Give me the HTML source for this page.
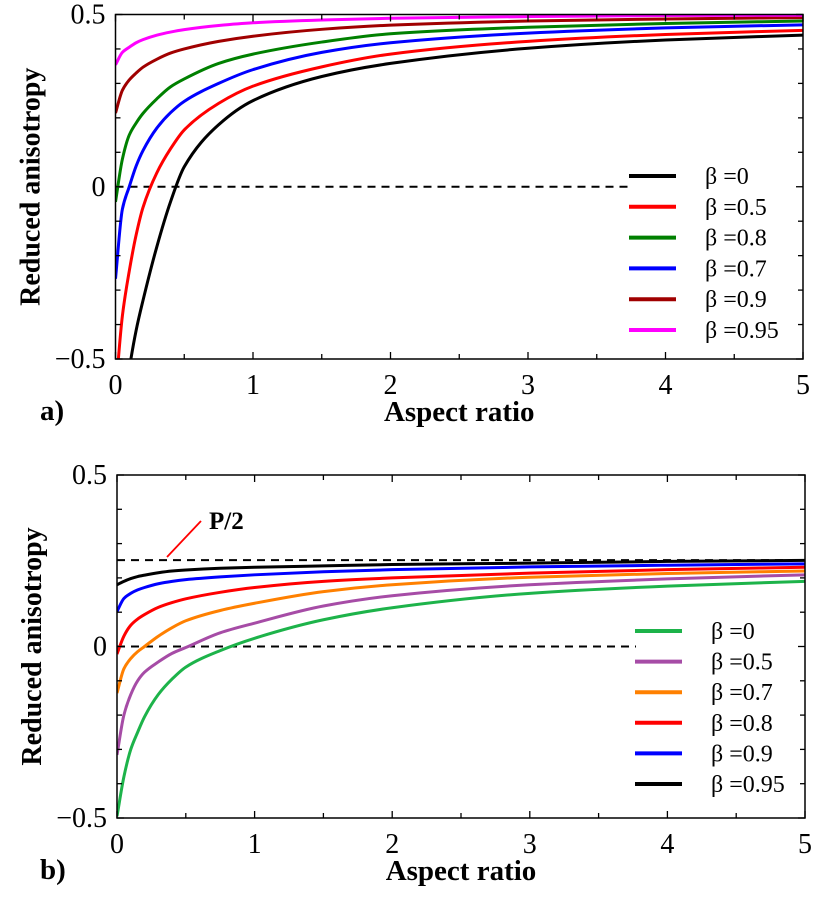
<!DOCTYPE html>
<html><head><meta charset="utf-8">
<style>
html,body{margin:0;padding:0;background:#fff;}
svg{display:block;}
svg text{font-family:"Liberation Serif","DejaVu Serif","Times New Roman",serif;}
</style></head>
<body>
<svg id="chart" width="820" height="905" viewBox="0 0 820 905" xmlns="http://www.w3.org/2000/svg">
<defs>
<clipPath id="clipA"><rect x="115.5" y="14.5" width="687.5" height="344.5"/></clipPath>
<clipPath id="clipB"><rect x="117" y="475" width="688" height="343"/></clipPath>
</defs>
</svg>
<script>
const xs = [0, 0.05, 0.1, 0.15, 0.2, 0.3, 0.4, 0.5, 0.75, 1, 1.5, 2, 3, 4, 5];
// Panel a series
const aLabels = ["β =0","β =0.5","β =0.8","β =0.7","β =0.9","β =0.95"];
const aColors = ["#000000","#ff0000","#008000","#0000ff","#a00000","#ff00ff"];
const aBlack   = [-0.9, -0.68, -0.53, -0.417, -0.33, -0.175, -0.044, 0.058, 0.18, 0.25, 0.32, 0.358, 0.402, 0.426, 0.44];
const aRed     = [-0.6, -0.375, -0.245, -0.14, -0.06, 0.04, 0.11, 0.165, 0.242, 0.292, 0.348, 0.385, 0.422, 0.442, 0.454];
const aGreen   = [-0.044, 0.08, 0.15, 0.185, 0.213, 0.255, 0.29, 0.313, 0.358, 0.385, 0.42, 0.444, 0.463, 0.474, 0.481];
const aBlue    = [-0.267, -0.065, 0.0, 0.06, 0.105, 0.17, 0.215, 0.248, 0.30, 0.34, 0.39, 0.418, 0.446, 0.461, 0.47];
const aDarkRed = [0.214, 0.28, 0.31, 0.33, 0.347, 0.37, 0.388, 0.40, 0.422, 0.437, 0.457, 0.469, 0.481, 0.487, 0.491];
const aMagenta = [0.354, 0.39, 0.405, 0.418, 0.427, 0.44, 0.449, 0.456, 0.468, 0.476, 0.484, 0.489, 0.494, 0.497, 0.498];
// Panel b series
const bLabels = ["β =0","β =0.5","β =0.7","β =0.8","β =0.9","β =0.95"];
const bColors = ["#1db34a","#a64ca6","#ff8000","#ff0000","#0000ff","#000000"];
const bGreen  = [-0.495, -0.38, -0.3, -0.25, -0.205, -0.14, -0.095, -0.06, -0.012, 0.024, 0.078, 0.113, 0.155, 0.176, 0.19];
const bPurple = [-0.316, -0.2, -0.14, -0.1, -0.075, -0.045, -0.02, -0.003, 0.04, 0.068, 0.118, 0.148, 0.18, 0.197, 0.209];
const bOrange = [-0.136, -0.065, -0.035, -0.015, 0.0, 0.03, 0.055, 0.075, 0.105, 0.126, 0.16, 0.18, 0.202, 0.213, 0.22];
const bRed    = [-0.022, 0.03, 0.062, 0.08, 0.093, 0.114, 0.128, 0.139, 0.158, 0.172, 0.19, 0.2, 0.214, 0.224, 0.231];
const bBlue   = [0.102, 0.14, 0.155, 0.165, 0.172, 0.183, 0.19, 0.195, 0.203, 0.209, 0.218, 0.224, 0.232, 0.237, 0.241];
const bBlack  = [0.18, 0.19, 0.198, 0.204, 0.208, 0.215, 0.22, 0.223, 0.228, 0.231, 0.235, 0.239, 0.243, 0.248, 0.251];
const pHalf = 0.252;
const xTicks = [0,1,2,3,4,5];
const yTicks = [-0.5,0,0.5];
const yTickLabels = ["\u22120.5","0","0.5"];

const NS="http://www.w3.org/2000/svg";
const svg=document.getElementById('chart');
const FONT='"Liberation Serif", "DejaVu Serif", serif';
function mk(tag,attrs,parent){const e=document.createElementNS(NS,tag);for(const k in attrs)e.setAttribute(k,attrs[k]);if(tag==='text')e.style.fontFamily=FONT;(parent||svg).appendChild(e);return e;}

function monoPath(px,py){
  const n=px.length, d=[], m=[];
  for(let i=0;i<n-1;i++) d.push((py[i+1]-py[i])/(px[i+1]-px[i]));
  m[0]=d[0]; m[n-1]=d[n-2];
  for(let i=1;i<n-1;i++){
    if(d[i-1]*d[i]<=0){m[i]=0;continue;}
    const h0=px[i]-px[i-1], h1=px[i+1]-px[i];
    const w1=2*h1+h0, w2=h1+2*h0;
    m[i]=(w1+w2)/(w1/d[i-1]+w2/d[i]);
  }
  let p='M'+px[0]+','+py[0];
  for(let i=0;i<n-1;i++){
    const h=px[i+1]-px[i];
    p+=` C${px[i]+h/3},${py[i]+m[i]*h/3} ${px[i+1]-h/3},${py[i+1]-m[i+1]*h/3} ${px[i+1]},${py[i+1]}`;
  }
  return p;
}

function panel(cfg){
  const {L,R,T,B,ymin,ymax,series,colors,labels,clip,tag,legX,legY,legStep,zeroEnd} = cfg;
  const sx=v=>L+(v-0)/(5-0)*(R-L);
  const sy=v=>B-(v-ymin)/(ymax-ymin)*(B-T);
  const g=mk('g',{});
  
  
  const z=mk('line',{x1:L,x2:zeroEnd,y1:sy(0),y2:sy(0),stroke:'#000','stroke-width':2,'stroke-dasharray':'8,6'},g);
  
  
  if(cfg.extra) cfg.extra(g,sx,sy);
  series.forEach((ys,i)=>{
    const d=monoPath(xs.map(sx),ys.map(sy));
    const p=mk('path',{d,fill:'none',stroke:colors[i],'stroke-width':3,'clip-path':'url(#'+clip+')'},g);
    
    
    const ly=legY+i*legStep;
    const ll=mk('line',{x1:legX,x2:legX+47,y1:ly,y2:ly,stroke:colors[i],'stroke-width':4},g);
    
    
    const lt=mk('text',{x:legX+76,y:ly+8,'font-size':24,fill:'#000'},g);
    lt.textContent=labels[i];
    
    
  });
  const f=mk('rect',{x:L,y:T,width:R-L,height:B-T,fill:'none',stroke:'#000','stroke-width':1.5},g);
  
  
  for(let v=0;v<=5;v+=0.5){
    const len=(v%1===0)?7:5;
    mk('line',{x1:sx(v),x2:sx(v),y1:B,y2:B-len,stroke:'#000','stroke-width':1.3},g);
    mk('line',{x1:sx(v),x2:sx(v),y1:T,y2:T+len,stroke:'#000','stroke-width':1.3},g);
  }
  xTicks.forEach(v=>{
    const t=mk('text',{x:sx(v),y:B+35,'font-size':28,'text-anchor':'middle'},g);
    t.textContent=String(v);
    
    
  });
  for(let k=-5;k<=5;k++){
    const v=k/10;const len=(k%5===0)?7:5;
    mk('line',{x1:L,x2:L+len,y1:sy(v),y2:sy(v),stroke:'#000','stroke-width':1.3},g);
    mk('line',{x1:R,x2:R-len,y1:sy(v),y2:sy(v),stroke:'#000','stroke-width':1.3},g);
  }
  yTicks.forEach((v,i)=>{
    const t=mk('text',{x:L-10,y:sy(v)+9,'font-size':28,'text-anchor':'end'},g);
    t.textContent=yTickLabels[i];
    
    
  });
  const yt=mk('text',{x:0,y:0,'font-size':28,'font-weight':'bold','text-anchor':'middle',transform:`translate(${L-76},${(T+B)/2}) rotate(-90)`},g);
  yt.textContent='Reduced anisotropy';
  
  
  const xt=mk('text',{x:(L+R)/2,y:B+62,'font-size':29,'font-weight':'bold','text-anchor':'middle'},g);
  xt.textContent='Aspect ratio';
  
  
  const pl=mk('text',{x:40,y:B+61,'font-size':29,'font-weight':'bold'},g);
  pl.textContent=tag+')';
  
  
}

panel({L:115.5,R:803,T:14.5,B:359,ymin:-0.5,ymax:0.5,
  series:[aBlack,aRed,aGreen,aBlue,aDarkRed,aMagenta],colors:aColors,labels:aLabels,
  clip:'clipA',tag:'a',legX:629,legY:176,legStep:30.8,zeroEnd:629});

panel({L:117,R:805,T:475,B:818,ymin:-0.5,ymax:0.5,
  series:[bGreen,bPurple,bOrange,bRed,bBlue,bBlack],colors:bColors,labels:bLabels,
  clip:'clipB',tag:'b',legX:635,legY:631,legStep:30.6,zeroEnd:636,
  extra:(g,sx,sy)=>{
    const l=mk('line',{x1:sx(0),x2:sx(5),y1:sy(pHalf),y2:sy(pHalf),stroke:'#000','stroke-width':2,'stroke-dasharray':'8,6'},g);
    
    
    const m=mk('line',{x1:167,y1:557,x2:201,y2:521,stroke:'#ff0000','stroke-width':1.8},g);
    
    
    const t=mk('text',{x:209,y:529,'font-size':25,'font-weight':'bold'},g);
    t.textContent='P/2';
    
    
  }});
</script>
</body></html>
